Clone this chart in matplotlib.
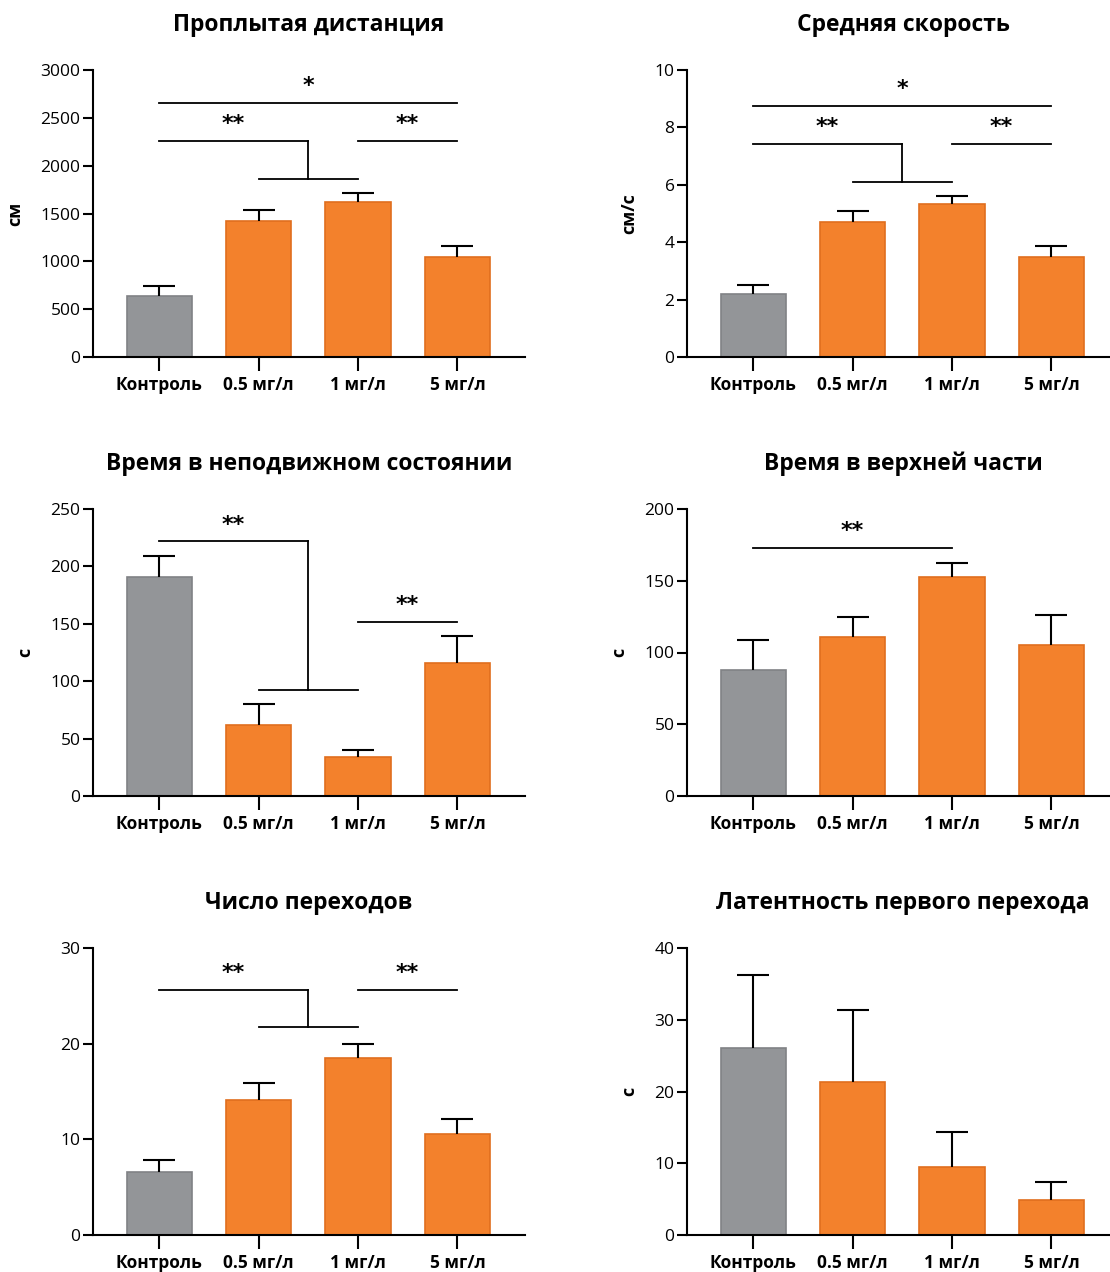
import matplotlib
matplotlib.use("Agg")
import matplotlib.pyplot as plt
import numpy as np

plt.rcParams['font.family'] = ['Open Sans', 'DejaVu Sans']

categories = ["Контроль", "0.5 мг/л", "1 мг/л", "5 мг/л"]

titles = ["Проплытая дистанция", "Средняя скорость",
          "Время в неподвижном состоянии", "Время в верхней части",
          "Число переходов", "Латентность первого перехода"]
ylabels = ["см", "см/с", "с", "с", "", "с"]

distance_mean = [640, 1425, 1615, 1050]
distance_err = [100, 115, 95, 115]
speed_mean = [2.2, 4.7, 5.32, 3.5]
speed_err = [0.3, 0.37, 0.3, 0.38]
freeze_mean = [191, 62, 34, 116]
freeze_err = [18, 18, 6, 23]
top_mean = [87.5, 111, 152.5, 105.5]
top_err = [21.5, 13.5, 10, 20.5]
cross_mean = [6.6, 14.15, 18.45, 10.6]
cross_err = [1.25, 1.7, 1.55, 1.5]
latency_mean = [26.0, 21.3, 9.5, 4.9]
latency_err = [10.3, 10.1, 4.8, 2.5]

means = [distance_mean, speed_mean, freeze_mean, top_mean, cross_mean, latency_mean]
errs = [distance_err, speed_err, freeze_err, top_err, cross_err, latency_err]
ymaxs = [3000, 10, 250, 200, 30, 40]
ysteps = [500, 2, 50, 50, 10, 10]

GREY = "#939598"
ORANGE = "#F3812C"
GREY_E = "#808285"
ORANGE_E = "#E06E1E"

fig = plt.figure(figsize=(11.1, 12.72), dpi=100)

lefts = [93/1110, 687/1110]
width = 432/1110
tops_px = [70, 509, 948]
height = 287/1272

axes = []
for r in range(3):
    for c in range(2):
        bottom = 1 - (tops_px[r] + 287)/1272
        ax = fig.add_axes([lefts[c], bottom, width, height])
        axes.append(ax)

x = np.arange(4)
for i, ax in enumerate(axes):
    m = np.array(means[i]); e = np.array(errs[i])
    colors = [GREY] + [ORANGE]*3
    ecolors = [GREY_E] + [ORANGE_E]*3
    ax.bar(x, m, width=0.655, color=colors, edgecolor=ecolors, linewidth=1.2, zorder=2)
    ax.errorbar(x, m, yerr=[np.zeros(4), e], fmt='none', ecolor='black',
                elinewidth=1.5, capsize=0, zorder=3)
    ax.plot(x, m + e, ls='none', marker='_', markersize=23, mew=1.5,
            color='black', zorder=3)
    ax.set_xlim(-0.665, 3.68)
    ax.set_ylim(0, ymaxs[i])
    ax.set_yticks(np.arange(0, ymaxs[i] + ysteps[i]/2, ysteps[i]))
    ax.set_xticks(x)
    ax.set_xticklabels(categories, fontsize=12.5, fontweight='bold')
    ax.tick_params(axis='y', labelsize=12.5, length=7, width=1.5, pad=2)
    ax.tick_params(axis='x', length=10, width=1.5, pad=4)
    for s in ['top', 'right']:
        ax.spines[s].set_visible(False)
    for s in ['left', 'bottom']:
        ax.spines[s].set_linewidth(1.5)
    ax.set_title(titles[i], fontsize=16.5, fontweight='bold', pad=28)
    if ylabels[i]:
        ax.set_ylabel(ylabels[i], fontsize=13, fontweight='bold', labelpad=12)

def hline(ax, x0, x1, y):
    ax.plot([x0, x1], [y, y], color='black', lw=1.3, clip_on=False, zorder=4)

def vline(ax, xx, y0, y1):
    ax.plot([xx, xx], [y0, y1], color='black', lw=1.3, clip_on=False, zorder=4)

def star(ax, xx, y, s):
    ax.text(xx, y, s, ha='center', va='center', fontsize=16, fontweight='bold',
            family='DejaVu Sans')

# Panel 1
ax = axes[0]
hline(ax, 0, 3, 2659); star(ax, 1.5, 2835, "*")
hline(ax, 0, 1.5, 2262); vline(ax, 1.5, 2262, 1862); hline(ax, 1, 2, 1862)
star(ax, 0.75, 2440, "**")
hline(ax, 2, 3, 2262); star(ax, 2.5, 2440, "**")

# Panel 2
ax = axes[1]
hline(ax, 0, 3, 8.75); star(ax, 1.5, 9.35, "*")
hline(ax, 0, 1.5, 7.41); vline(ax, 1.5, 7.41, 6.11); hline(ax, 1, 2, 6.11)
star(ax, 0.75, 8.0, "**")
hline(ax, 2, 3, 7.41); star(ax, 2.5, 8.0, "**")

# Panel 3
ax = axes[2]
hline(ax, 0, 1.5, 222.3); vline(ax, 1.5, 222.3, 92.7); hline(ax, 1, 2, 92.7)
star(ax, 0.75, 236, "**")
hline(ax, 2, 3, 151.6); star(ax, 2.5, 166, "**")

# Panel 4
ax = axes[3]
hline(ax, 0, 2, 172.5); star(ax, 1.0, 185, "**")

# Panel 5
ax = axes[4]
hline(ax, 0, 1.5, 25.6); vline(ax, 1.5, 25.6, 21.7); hline(ax, 1, 2, 21.7)
star(ax, 0.75, 27.4, "**")
hline(ax, 2, 3, 25.6); star(ax, 2.5, 27.4, "**")

fig.savefig("out.png", dpi=100)
